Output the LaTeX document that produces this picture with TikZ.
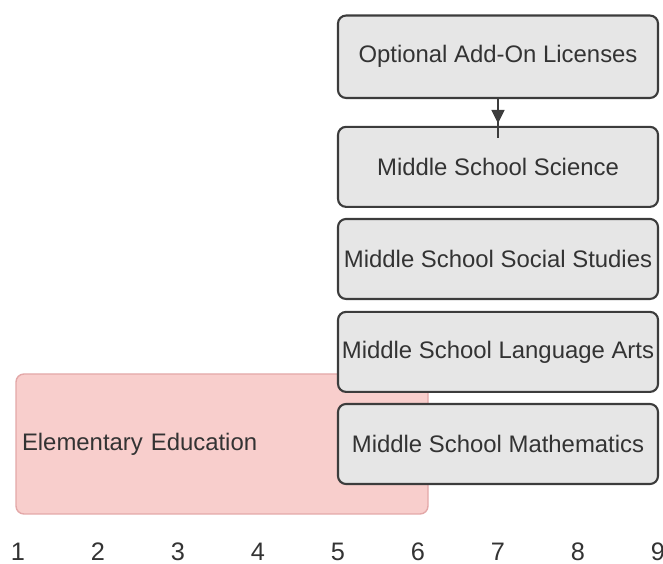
\documentclass[tikz,border=0pt]{standalone}
\usepackage{fontspec}
\setmainfont{Liberation Sans}
\usetikzlibrary{positioning}
\usetikzlibrary{arrows.meta}
\usetikzlibrary{decorations.markings}
\definecolor{gray2}{HTML}{E6E6E6}
\definecolor{edge2}{HTML}{3C3C3C}
\definecolor{pink2}{HTML}{F8CECC}
\definecolor{pinkedge}{HTML}{E3A8A8}
\definecolor{ink2}{HTML}{333333}
\tikzset{
edgeline/.style={line width=0.75pt},
license/.style={draw=edge2, fill=gray2, edgeline, rounded corners=0.1cm,
	minimum width=4cm, minimum height=1cm, inner sep=0pt, text=ink2,
	font=\fontsize{8.5}{10}\selectfont},
gradebox/.style={draw=pinkedge, fill=pink2, line width=0.5pt, rounded corners=0.1cm,
	minimum width=5.15cm, minimum height=1.75cm, inner xsep=0.075cm, inner ysep=0pt,
	text width=5cm, align=left, text=ink2, font=\fontsize{8.5}{10}\selectfont},
axislabel/.style={text=ink2, inner sep=0pt, font=\fontsize{9}{10}\selectfont},
midmark/.style={
	decoration={
		markings,
		mark=at position {#1} with {
			\arrow{Triangle[width=0.16cm,length=0.17cm]}
		}
	}, edgeline, draw=edge2,
	postaction={decorate}
},
}

\begin{document}
\begin{tikzpicture}
\useasboundingbox (0.775,0) rectangle (9.0625,7.05);
%Grade band behind the licenses
\node[gradebox] (elem) at (3.55,1.5) {Elementary Education};

%Stack of middle school licenses
\node[license] (math) at (7,1.5) {Middle School Mathematics};
\node[license, above=0.125cm of math] (lang) {Middle School Language Arts};
\node[license, above=0.135cm of lang] (social) {Middle School Social Studies};
\node[license, above=0.125cm of social] (science) {Middle School Science};
\node[license, above=0.335cm of science, minimum height=1.03cm] (addon) {Optional Add-On Licenses};

\coordinate (arrowend) at (7,5.325);
\draw[midmark=0.63] (addon.south) to (arrowend);

%Grade axis
\foreach \i in {1,...,9}
	\node[axislabel] (g\i) at (\i,0.15) {\i};
\end{tikzpicture}
\end{document}
